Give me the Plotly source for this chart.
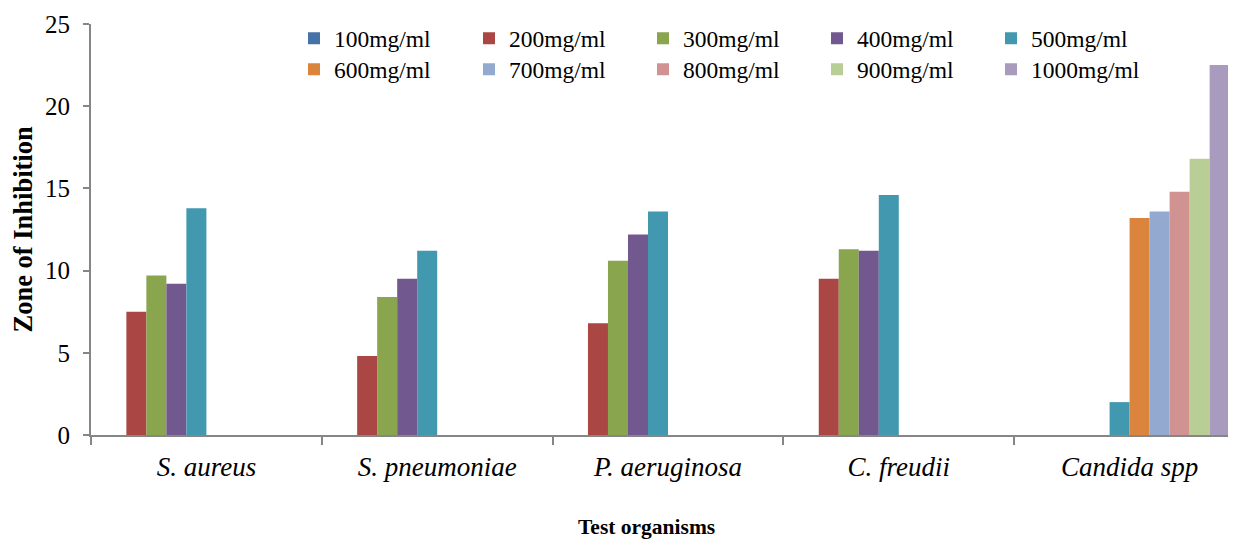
import plotly.graph_objects as go

organisms = ["S. aureus", "S. pneumoniae", "P. aeruginosa", "C. freudii", "Candida spp"]
concentrations = ["100mg/ml", "200mg/ml", "300mg/ml", "400mg/ml", "500mg/ml",
                  "600mg/ml", "700mg/ml", "800mg/ml", "900mg/ml", "1000mg/ml"]

# zone of inhibition per concentration (one list per series, order = organisms)
c100 = [0, 0, 0, 0, 0]
c200 = [7.5, 4.8, 6.8, 9.5, 0]
c300 = [9.7, 8.4, 10.6, 11.3, 0]
c400 = [9.2, 9.5, 12.2, 11.2, 0]
c500 = [13.8, 11.2, 13.6, 14.6, 2.0]
c600 = [0, 0, 0, 0, 13.2]
c700 = [0, 0, 0, 0, 13.6]
c800 = [0, 0, 0, 0, 14.8]
c900 = [0, 0, 0, 0, 16.8]
c1000 = [0, 0, 0, 0, 22.5]

series = [c100, c200, c300, c400, c500, c600, c700, c800, c900, c1000]
colors = ["#4572A7", "#AA4643", "#89A54E", "#71588F", "#4198AF",
          "#DB843D", "#93A9CF", "#D19392", "#B9CD96", "#A99BBD"]

y_ticks = [0, 5, 10, 15, 20, 25]

FONT = "Liberation Serif"

# the page body adds an 8px offset, so layout targets are shifted by it
OFF = 8
W, H = 1236, 542
ml = 91 - OFF
mt = 24 - OFF
plot_right = 1236 - OFF
plot_bottom = 435.5 - OFF
mr = W - plot_right
mb = H - plot_bottom
pw = W - ml - mr
ph = H - mt - mb


def px_x(px):
    return (px - OFF - ml) / pw


def px_y(py):
    return 1 - (py - OFF - mt) / ph


# legend grid: 5 columns x 2 rows (marker left edges / row centres, reference pixels)
leg_cols = [313, 488, 662, 836, 1010]
leg_rows = [38.5, 69.5]

fig = go.Figure()
legends = {}
for i, (name, vals, col) in enumerate(zip(concentrations, series, colors)):
    key = "legend" if i == 0 else f"legend{i + 1}"
    fig.add_trace(go.Bar(
        x=organisms, y=vals, name=name,
        marker=dict(color=col, line=dict(width=0)),
        legend=key, showlegend=True,
    ))
    legends[key] = dict(
        orientation="h",
        x=px_x(leg_cols[i % 5] - 19), y=px_y(leg_rows[i // 5]),
        xanchor="left", yanchor="middle",
        font=dict(family=FONT, size=23.5, color="black"),
        bgcolor="rgba(0,0,0,0)", borderwidth=0,
        itemclick=False, itemdoubleclick=False,
    )

fig.update_layout(
    width=W, height=H,
    showlegend=True,
    margin=dict(l=ml, r=mr, t=mt, b=mb, pad=0, autoexpand=False),
    paper_bgcolor="white", plot_bgcolor="white",
    barmode="group", bargap=0.133, bargroupgap=0,
    font=dict(family=FONT, color="black"),
    xaxis=dict(
        range=[-0.5, 4.461], automargin=False,
        showline=True, linecolor="#868686", linewidth=2,
        ticks="outside", tickson="boundaries", ticklen=8, tickwidth=2, tickcolor="#868686",
        tickfont=dict(family=FONT, size=27, style="italic", color="black"),
        ticklabelstandoff=7,
        showgrid=False, zeroline=False,
    ),
    yaxis=dict(
        range=[0, 25], automargin=False,
        tickvals=y_ticks,
        showline=True, linecolor="#868686", linewidth=2,
        ticks="outside", ticklen=6, tickwidth=2, tickcolor="#868686",
        tickfont=dict(family=FONT, size=25, color="black"),
        ticklabelstandoff=8,
        showgrid=False, zeroline=False,
    ),
    annotations=[
        dict(text="Zone of Inhibition", xref="paper", yref="paper",
             x=px_x(22), y=0.5, xanchor="center", yanchor="middle",
             textangle=-90, showarrow=False,
             font=dict(family=FONT, size=26.5, weight="bold", color="black")),
        dict(text="Test organisms", xref="paper", yref="paper",
             x=px_x(646.5), y=px_y(528), xanchor="center", yanchor="middle",
             showarrow=False,
             font=dict(family=FONT, size=21.5, weight="bold", color="black")),
    ],
    **legends,
)

fig.write_html("out.html")
